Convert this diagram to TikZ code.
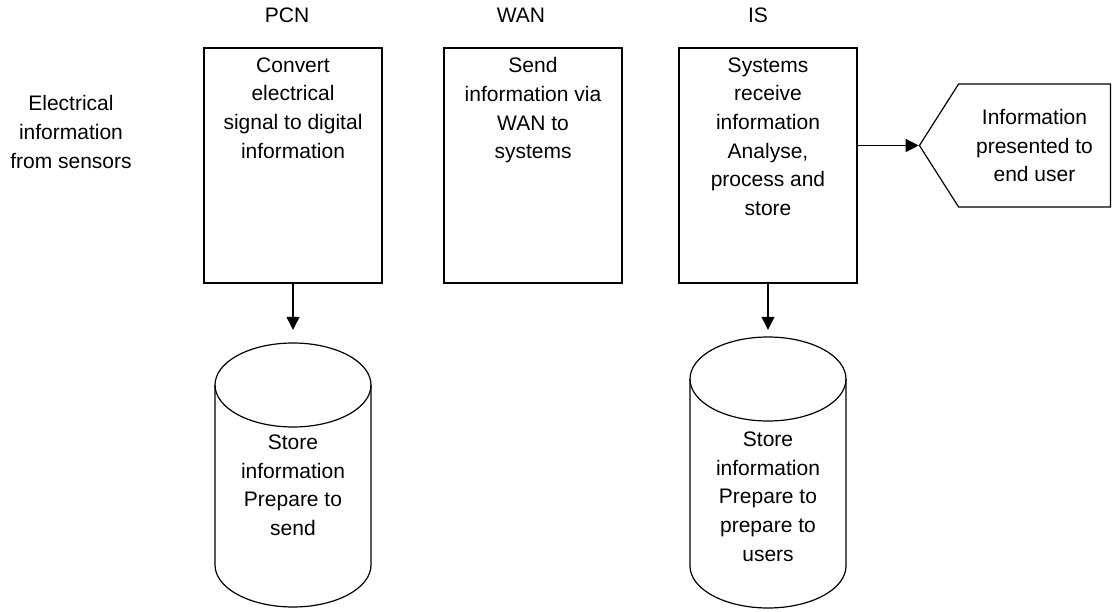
\documentclass[tikz,border=0pt]{standalone}
\usepackage{fontspec}
\setmainfont{Liberation Sans}
\usetikzlibrary{arrows.meta,shapes.symbols}

\NewDocumentCommand{\storedrum}{mmmm}{%
\begin{scope}[shift={(#2,#3)}]%
\node (#1) at (0,0) [minimum width=156pt,minimum height={2*#4},inner sep=0pt] {};
\draw[drum] (0,-#4+42) ellipse [x radius=78, y radius=42];
\draw[drum] (-78,-#4+42) -- (-78,#4-42) arc [start angle=180, end angle=0, x radius=78, y radius=42] -- (78,-#4+42);
\end{scope}%
}

\tikzset{
  stagebox/.style={draw,line width=1.2pt,minimum width=178pt,minimum height=235pt,inner sep=0pt},
  boxtext/.style={anchor=north,align=center,inner sep=0pt},
  drum/.style={line width=1.2pt},
  showuser/.style={draw,line width=1.2pt,signal,signal to=west,signal from=nowhere,
    signal pointer angle=115,minimum width=191pt,minimum height=123pt,align=center,inner sep=0pt},
  flow/.style={-{Triangle[length=13pt,width=13pt]},line width=1.2pt},
}

\begin{document}
\begin{tikzpicture}[x=1pt,y=-1pt,font=\fontsize{21}{28.6}\selectfont]
\useasboundingbox (0,0) rectangle (1112,612);

% stage titles
\node (pcnlabel) at (287,15) {PCN};
\node (wanlabel) at (521,15) {WAN};
\node (islabel) at (758,15) {IS};

% input
\node (sensors) at (71,132) [align=center] {Electrical\\information\\from sensors};

% stages
\node (pcn) at (293,165.5) [stagebox] {};
\node (wan) at (533,165.5) [stagebox] {};
\node (is) at (768,165.5) [stagebox] {};
\node (pcntext) at (pcn.north) [boxtext,yshift=-10pt] {Convert\\electrical\\signal to digital\\information};
\node (wantext) at (wan.north) [boxtext,yshift=-10pt] {Send\\information via\\WAN to\\systems};
\node (istext) at (is.north) [boxtext,yshift=-10pt] {Systems\\receive\\information\\Analyse,\\process and\\store};

% output to the user
\node (user) at (1034.5,145.5) [showuser] {Information\\presented to\\end user};
\draw[flow] (user.west -| is.east) -- (user.west);

% stores
\storedrum{pcnstore}{293}{475}{132}
\storedrum{isstore}{768}{472.5}{135.5}
\node (pcnstoretext) at (pcnstore.north) [boxtext,yshift=-92pt] {Store\\information\\Prepare to\\send};
\node (isstoretext) at (isstore.north) [boxtext,yshift=-95pt] {Store\\information\\Prepare to\\prepare to\\users};
\draw[flow,shorten >=13pt] (pcn.south) -- (pcnstore.north);
\draw[flow,shorten >=7pt] (is.south) -- (isstore.north);
\end{tikzpicture}
\end{document}
